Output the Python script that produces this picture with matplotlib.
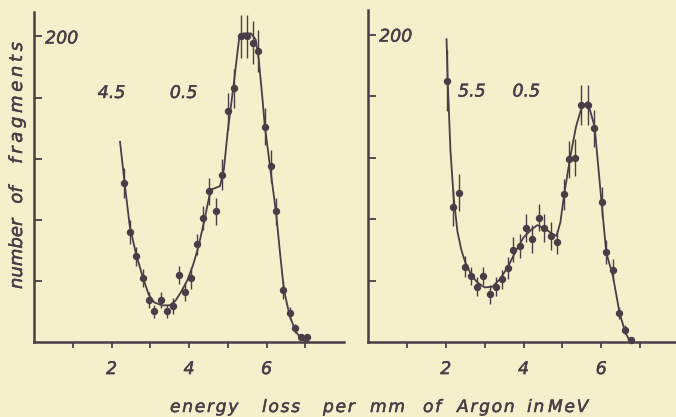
import matplotlib
matplotlib.use("Agg")
from matplotlib import pyplot as plt
import matplotlib.patheffects as pe

paper = "#f5efcb"
ink = "#4b3d48"

# left panel: 4.5 / 0.5 run
left_x = [2.33, 2.47, 2.63, 2.80, 2.96, 3.10, 3.28, 3.44, 3.59, 3.75, 3.90, 4.05, 4.21,
          4.36, 4.52, 4.69, 4.84, 5.01, 5.16, 5.33, 5.49, 5.65, 5.78, 5.95, 6.11, 6.25,
          6.43, 6.60, 6.73, 6.90, 7.05]
left_y = [104, 72, 56, 42, 27.5, 20, 27.5, 20, 23.6, 44, 33, 42, 64,
          81, 98.6, 85.5, 109.5, 151, 166, 200, 200, 196, 190.5, 141, 115, 85.5,
          34, 19, 9, 3, 3]
left_err = [10, 8, 6, 6, 5, 4, 5, 4, 5, 6, 6, 7, 7,
            8, 9, 9, 10, 12, 13, 14, 14, 14, 14, 12, 11, 9,
            6, 4, 3, 2, 2]
left_curve_x = [2.22, 2.33, 2.47, 2.63, 2.80, 2.96, 3.10, 3.30, 3.50, 3.65, 3.80, 3.95,
                4.10, 4.25, 4.40, 4.52, 4.60, 4.70, 4.80, 4.90, 5.00, 5.15, 5.30, 5.40,
                5.60, 5.72, 5.80, 5.90, 5.95, 6.10, 6.25, 6.35, 6.45, 6.60, 6.75, 6.90, 7.05]
left_curve_y = [131, 106, 76, 58, 43, 31, 26, 24, 24, 27, 33, 40,
                50, 63, 80, 95, 100, 101, 102, 113, 138, 168, 200, 202,
                202, 198, 185, 158, 143, 113, 84, 58, 34, 17, 7, 2, 0]

# right panel: 5.5 / 0.5 run
right_x = [2.02, 2.19, 2.33, 2.49, 2.65, 2.81, 2.97, 3.14, 3.29, 3.45, 3.61, 3.74, 3.91,
           4.06, 4.23, 4.39, 4.54, 4.70, 4.87, 5.04, 5.18, 5.33, 5.49, 5.65, 5.81, 6.01,
           6.11, 6.29, 6.46, 6.61, 6.76]
right_y = [170, 87.7, 97, 49, 43, 36, 43, 31, 36, 40.7, 48, 60, 62.5,
           74, 67, 81, 74, 69, 65, 96, 119, 120, 154, 154, 139, 91,
           58.6, 47, 19, 8, 1.3]
right_err = [20, 12, 12, 7, 6, 6, 6, 6, 6, 6, 7, 8, 8,
             9, 9, 9, 9, 9, 8, 10, 12, 12, 13, 13, 12, 10,
             8, 7, 4, 3, 1]
right_curve_x = [2.02, 2.05, 2.12, 2.20, 2.30, 2.40, 2.50, 2.65, 2.80, 3.00, 3.20, 3.40,
                 3.60, 3.80, 4.00, 4.20, 4.35, 4.55, 4.70, 4.85, 4.95, 5.04, 5.20, 5.35,
                 5.50, 5.64, 5.72, 5.83, 5.92, 6.00, 6.13, 6.30, 6.47, 6.62, 6.75]
right_curve_y = [197, 170, 125, 95, 72, 60, 52, 44, 39, 35.5, 36, 41,
                 49, 59, 68, 73, 76, 74, 71, 69, 78, 95, 120, 140,
                 153, 156, 150, 140, 115, 93, 58, 43, 19, 6, 0]

xticks = [1, 2, 3, 4, 5, 6, 7]
xtick_labels = ["", "2", "", "4", "", "6", ""]
yticks = [40, 80, 120, 160, 200]
ytick_labels = ["", "", "", "", "200"]

# hand-lettered axis titles, word by word (pixel position of each word)
xlabel_words = [("energy", 170), ("loss", 262), ("per", 323), ("mm", 370),
                ("of", 423), ("Argon", 457), ("in", 527), ("MeV", 548)]
ylabel_words = [("number", 254, ""), ("of", 195, ""), ("fragments", 103, "\u2009")]

W, H = 676, 417
fig = plt.figure(figsize=(W / 100, H / 100), dpi=100, facecolor=paper)

heavy = [pe.withStroke(linewidth=0.35, foreground=ink)]
font = dict(family="DejaVu Sans", style="italic", color=ink)


def spaced(word, gap="\u200a"):
    return gap.join(word)


def panel(left_px, top_px, width_px, xs, ys, errs, cx, cy, notes):
    bottom_px = 342
    ax = fig.add_axes([left_px / W, (H - bottom_px) / H, width_px / W, (bottom_px - top_px) / H])
    ax.set_facecolor(paper)
    ax.set_xlim(0, 8)
    ax.set_ylim(0, 216)
    for s in ["top", "right"]:
        ax.spines[s].set_visible(False)
    for s in ["left", "bottom"]:
        ax.spines[s].set_linewidth(1.8)
        ax.spines[s].set_color(ink)
    ax.set_xticks(xticks)
    ax.set_xticklabels(xtick_labels, fontsize=12.5, **font)
    ax.set_yticks(yticks)
    ax.set_yticklabels(ytick_labels, fontsize=12.5, **font)
    ax.tick_params(axis="x", direction="out", length=4, width=1.3, color=ink, pad=9)
    ax.tick_params(axis="y", direction="in", length=6, width=1.3, color=ink, pad=-8)
    for lbl in ax.get_yticklabels():
        lbl.set_ha("left")
    for lbl in ax.get_xticklabels() + ax.get_yticklabels():
        lbl.set_path_effects(heavy)

    ax.plot(cx, cy, color=ink, lw=1.3, clip_on=False)
    ax.errorbar(xs, ys, yerr=errs, fmt="o", ms=4.3, color=ink, ecolor=ink,
                elinewidth=1.0, capsize=0, clip_on=False)
    for x, y, t in notes:
        ax.text(x, y, t, fontsize=12.5, ha="center", va="center",
                path_effects=heavy, **font)
    return ax


panel(34, 12, 310, left_x, left_y, left_err, left_curve_x, left_curve_y,
      [(2.0, 163, "4.5"), (3.86, 163, "0.5")])
panel(368, 10, 311, right_x, right_y, right_err, right_curve_x, right_curve_y,
      [(2.67, 163, "5.5"), (4.07, 163, "0.5")])

for word, x in xlabel_words:
    fig.text(x / W, 1 - 407 / H, spaced(word), fontsize=12.3, ha="left", va="center",
             path_effects=heavy, **font)
for word, y, gap in ylabel_words:
    fig.text(17 / W, 1 - y / H, spaced(word, gap), rotation=90, fontsize=13,
             ha="center", va="center", path_effects=heavy, **font)

fig.savefig("out.png", dpi=100, facecolor=paper)
